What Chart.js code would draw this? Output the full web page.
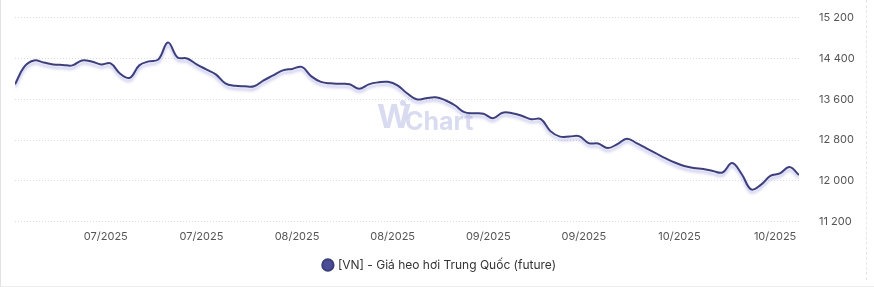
<!DOCTYPE html>
<html>
<head>
<meta charset="utf-8">
<script src="https://cdn.jsdelivr.net/npm/chart.js@4.4.1/dist/chart.umd.min.js"></script>
<style>
  html, body { margin: 0; padding: 0; background: #fff; overflow: hidden; }
  #wrap { position: relative; width: 874px; height: 287px; box-sizing: border-box; overflow: hidden; border-left: 1px solid #e2e2e2; border-bottom: 1px solid #ececec; }
  #wrap:after { content: ''; position: absolute; left: 865px; top: 0; height: 280px; border-left: 1px dashed #e6e6e6; }
  canvas { display: block; margin-top: -9px; }
</style>
</head>
<body>
<div id="wrap"><canvas id="priceChart" width="864" height="290"></canvas></div>
<script>
// Giá heo hơi Trung Quốc (future), one value per session
const seriesName = '[VN] - Giá heo hơi Trung Quốc (future)';
const prices = [
  13893, 14244, 14361, 14322, 14283, 14273, 14264, 14361, 14342, 14283,
  14303, 14100, 14020, 14264, 14342, 14381, 14712, 14420, 14400, 14283,
  14186, 14088, 13912, 13864, 13854, 13854, 13971, 14068, 14166, 14195,
  14234, 14049, 13942, 13912, 13903, 13893, 13805, 13893, 13932, 13942,
  13873, 13717, 13600, 13620, 13639, 13581, 13483, 13347, 13327, 13317,
  13230, 13337, 13327, 13278, 13210, 13210, 12976, 12869, 12869, 12878,
  12742, 12732, 12644, 12722, 12829, 12742, 12644, 12547, 12449, 12361,
  12293, 12254, 12234, 12195, 12166, 12351, 12137, 11835, 11922, 12098,
  12147, 12273, 12117
];
const tickPos = [9.5, 19.5, 29.5, 39.5, 49.5, 59.5, 69.5, 79.5];
const tickLabels = ['07/2025', '07/2025', '08/2025', '08/2025', '09/2025', '09/2025', '10/2025', '10/2025'];
const yTicks = [11200, 12000, 12800, 13600, 14400, 15200];

const points = prices.map((v, i) => ({ x: i, y: v }));

function fmt(v) {
  return String(v).replace(/\B(?=(\d{3})+(?!\d))/g, ' ');
}

// watermark + soft shadow under the line
const decor = {
  id: 'decor',
  beforeDatasetsDraw(chart) {
    const ctx = chart.ctx;
    ctx.save();
    ctx.fillStyle = 'rgba(186, 190, 228, 0.55)';
    ctx.font = 'bold 33px Inter';
    ctx.textBaseline = 'alphabetic';
    ctx.fillText('W', 376, 137);
    ctx.font = 'bold 25px Inter';
    ctx.fillText('Chart', 404, 139);
    ctx.beginPath();
    ctx.arc(402, 112, 3, 0, Math.PI * 2);
    ctx.fill();
    ctx.restore();
    ctx.save();
    ctx.shadowColor = 'rgba(110, 110, 210, 0.45)';
    ctx.shadowOffsetY = 3;
    ctx.shadowBlur = 3;
  },
  afterDatasetsDraw(chart) {
    chart.ctx.restore();
  }
};

new Chart(document.getElementById('priceChart'), {
  type: 'line',
  data: {
    datasets: [{
      label: seriesName,
      data: points,
      borderColor: '#3d3f7c',
      backgroundColor: '#4a4c98',
      borderWidth: 2,
      pointRadius: 0,
      tension: 0.4,
      fill: false
    }]
  },
  options: {
    responsive: false,
    animation: false,
    layout: { padding: { left: 14, right: 0, top: 0, bottom: 0 } },
    plugins: {
      tooltip: { enabled: false },
      legend: {
        position: 'bottom',
        labels: {
          usePointStyle: true,
          pointStyle: 'circle',
          boxWidth: 8,
          boxHeight: 8,
          padding: 16,
          color: '#333',
          font: { family: 'Inter', size: 12 }
        }
      }
    },
    scales: {
      x: {
        type: 'linear',
        min: 0,
        max: prices.length - 1,
        afterBuildTicks: axis => { axis.ticks = tickPos.map(v => ({ value: v })); },
        grid: { display: false },
        border: { display: false },
        ticks: {
          autoSkip: false,
          maxRotation: 0,
          padding: 0,
          color: '#555',
          font: { family: 'Inter', size: 11 },
          callback: (v, i) => tickLabels[i]
        }
      },
      y: {
        position: 'right',
        min: 11200,
        max: 15200,
        afterBuildTicks: axis => { axis.ticks = yTicks.map(v => ({ value: v })); },
        afterFit: axis => { axis.width = 66; },
        grid: { color: '#dcdcdc', drawTicks: false, lineWidth: 1 },
        border: { display: false, dash: [1, 2] },
        ticks: {
          padding: 20,
          color: '#555',
          font: { family: 'Inter', size: 11 },
          callback: v => fmt(v)
        }
      }
    }
  },
  plugins: [decor]
});
</script>
</body>
</html>
